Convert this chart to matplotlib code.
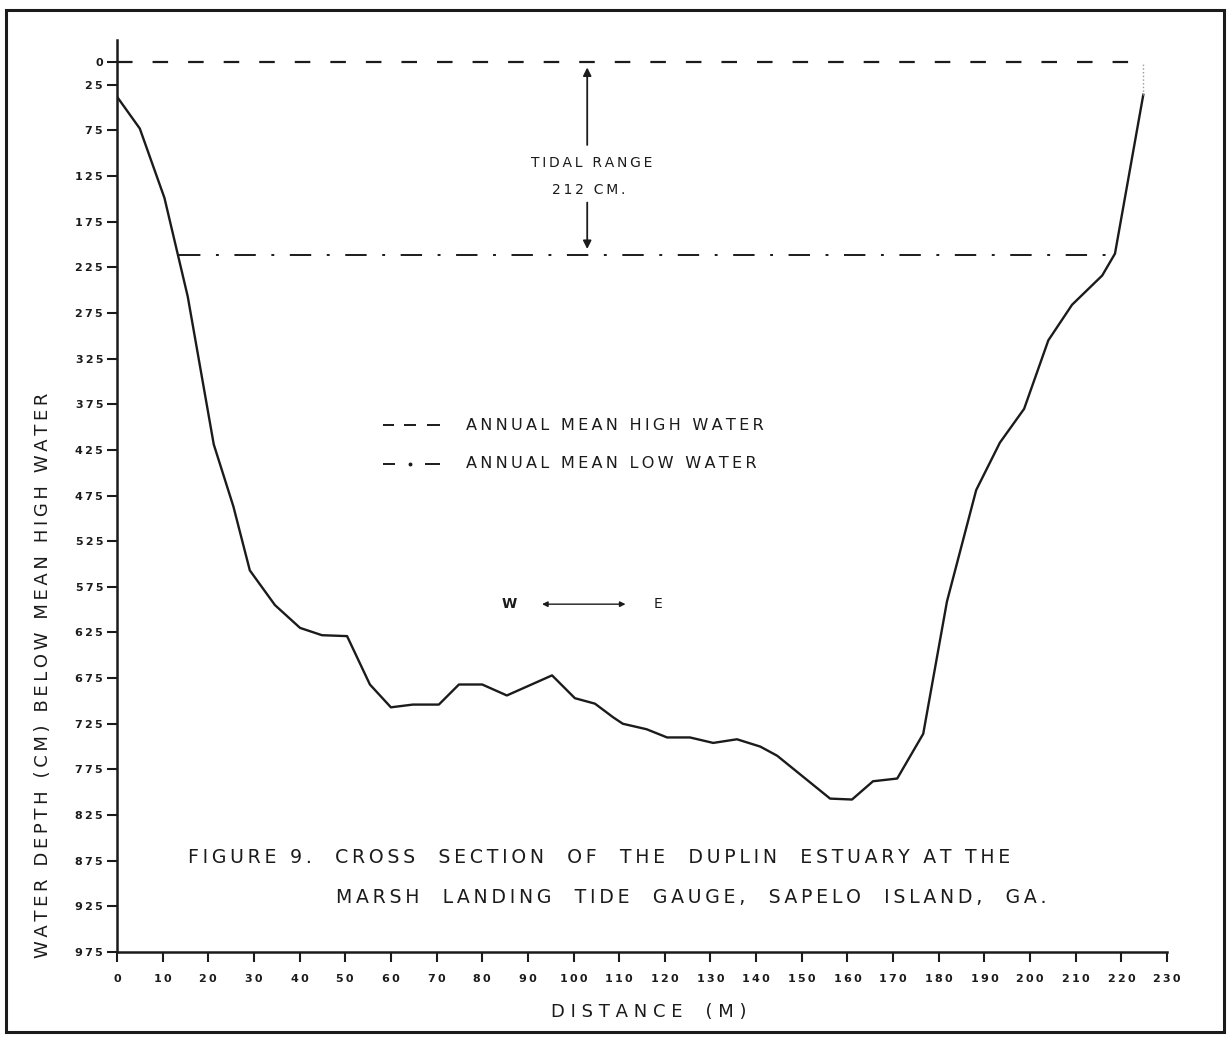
import matplotlib
matplotlib.use("Agg")
import numpy as np
import matplotlib.pyplot as plt
from matplotlib.patches import Rectangle

# cross section: distance (m), depth below MHW (cm)
distance = [0, 5, 10.4, 15.5, 21.2, 25.5, 29.1, 34.6, 40.1, 44.9, 50.4, 55.4, 60.0,
            64.8, 70.5, 74.9, 80.0, 85.4, 95.3, 100.3, 104.7, 108.7, 110.8, 116.0,
            120.5, 125.5, 130.6, 135.8, 140.9, 144.6, 156.2, 161.0, 165.6, 170.9,
            176.6, 181.8, 188.2, 193.4, 198.7, 204.0, 209.2, 215.8, 218.6, 224.8]
depth = [38, 73, 149, 257, 419, 487, 557, 595, 620, 628, 629, 682, 707,
         704, 704, 682, 682, 694, 672, 697, 703, 718, 725, 731,
         740, 740, 746, 742, 750, 760, 807, 808, 788, 785,
         736, 591, 469, 417, 380, 305, 266, 234, 210, 36]

high_water = 0
low_water = 212
hw_span = [0, 224.8]
lw_span = [13.6, 218.6]

yticks = [0, 25] + list(range(75, 976, 50))
xticks = list(range(0, 231, 10))

ink = "#1b1b1b"
plt.rcParams['font.family'] = ['DejaVu Sans']


def spread(s, gap="\u2009"):
    # crude letter spacing like the hand lettering of the original
    return gap.join(s)


fig = plt.figure(figsize=(12.3, 10.42), dpi=100)
ax = fig.add_axes([0.0951, 0.0864, 0.8537, 0.8752])

ax.plot(distance, depth, color=ink, lw=1.7)
ax.plot([distance[-1], distance[-1]], [depth[-1], 0], color="#999999", lw=1, ls=":")
ax.plot(hw_span, [high_water, high_water], color=ink, lw=1.6, dashes=(7, 9))
ax.plot(lw_span, [low_water, low_water], color=ink, lw=1.4, dashes=(11, 8, 1.5, 8))

# tidal range arrows
ax.annotate("", xy=(103, 3), xytext=(103, 94),
            arrowprops=dict(arrowstyle="-|>", color=ink, lw=1.3, mutation_scale=12))
ax.annotate("", xy=(103, 208), xytext=(103, 151),
            arrowprops=dict(arrowstyle="-|>", color=ink, lw=1.3, mutation_scale=12))
ax.text(104, 111, spread("TIDAL RANGE"), ha="center", va="center", fontsize=10, color=ink)
ax.text(103.3, 140, spread("212 CM."), ha="center", va="center", fontsize=10, color=ink)

# legend drawn by hand like the original
for a, b in [(58.3, 60.6), (62.8, 65.6), (67.8, 70.8)]:
    ax.plot([a, b], [398, 398], color=ink, lw=1.4, solid_capstyle="butt")
for a, b in [(58.3, 60.9), (67.5, 70.8)]:
    ax.plot([a, b], [440, 440], color=ink, lw=1.4, solid_capstyle="butt")
ax.plot([64.2], [440], marker="o", ms=1.8, color=ink)
ax.text(76.5, 398, spread("ANNUAL MEAN HIGH WATER"), ha="left", va="center",
        fontsize=11.6, color=ink)
ax.text(76.5, 440, spread("ANNUAL MEAN LOW WATER"), ha="left", va="center",
        fontsize=11.6, color=ink)

# W <-> E
ax.text(86, 594, "W", ha="center", va="center", fontsize=10, fontweight="bold", color=ink)
ax.annotate("", xy=(92.5, 594), xytext=(112, 594),
            arrowprops=dict(arrowstyle="<|-|>", color=ink, lw=1.0, mutation_scale=8))
ax.text(118.6, 594, "E", ha="center", va="center", fontsize=10, color=ink)

# caption
ax.text(15.5, 872, spread("FIGURE 9.  CROSS  SECTION  OF  THE  DUPLIN  ESTUARY AT THE"),
        ha="left", va="center", fontsize=13.6, color=ink)
ax.text(48, 915, spread("MARSH  LANDING  TIDE  GAUGE,  SAPELO  ISLAND,  GA."),
        ha="left", va="center", fontsize=13.6, color=ink)

ax.set_xlim(0, 230)
ax.set_ylim(975, -24)
ax.set_xticks(xticks)
ax.set_xticklabels([spread(str(v)) for v in xticks], fontsize=8, fontweight="bold")
ax.set_yticks(yticks)
ax.set_yticklabels([spread(str(v)) for v in yticks], fontsize=8, fontweight="bold")
ax.tick_params(direction="out", length=7, width=1.5, colors=ink)
ax.tick_params(axis="x", pad=9)
ax.tick_params(axis="y", pad=3)
for s in ["top", "right"]:
    ax.spines[s].set_visible(False)
for s in ["left", "bottom"]:
    ax.spines[s].set_linewidth(1.8)
    ax.spines[s].set_color(ink)

ax.set_xlabel("D I S T A N C E    ( M )", fontsize=13, color=ink)
ax.xaxis.set_label_coords(0.506, -0.056)
ax.set_ylabel(spread("WATER DEPTH (CM) BELOW MEAN HIGH WATER"), fontsize=13, color=ink)
ax.yaxis.set_label_coords(-0.062, 0.303)

# outer frame of the scanned page
fig.patches.append(Rectangle((0.005, 0.01), 0.99, 0.98, transform=fig.transFigure,
                             fill=False, lw=2.2, edgecolor=ink))

plt.savefig("out.png", dpi=100, facecolor="white")
